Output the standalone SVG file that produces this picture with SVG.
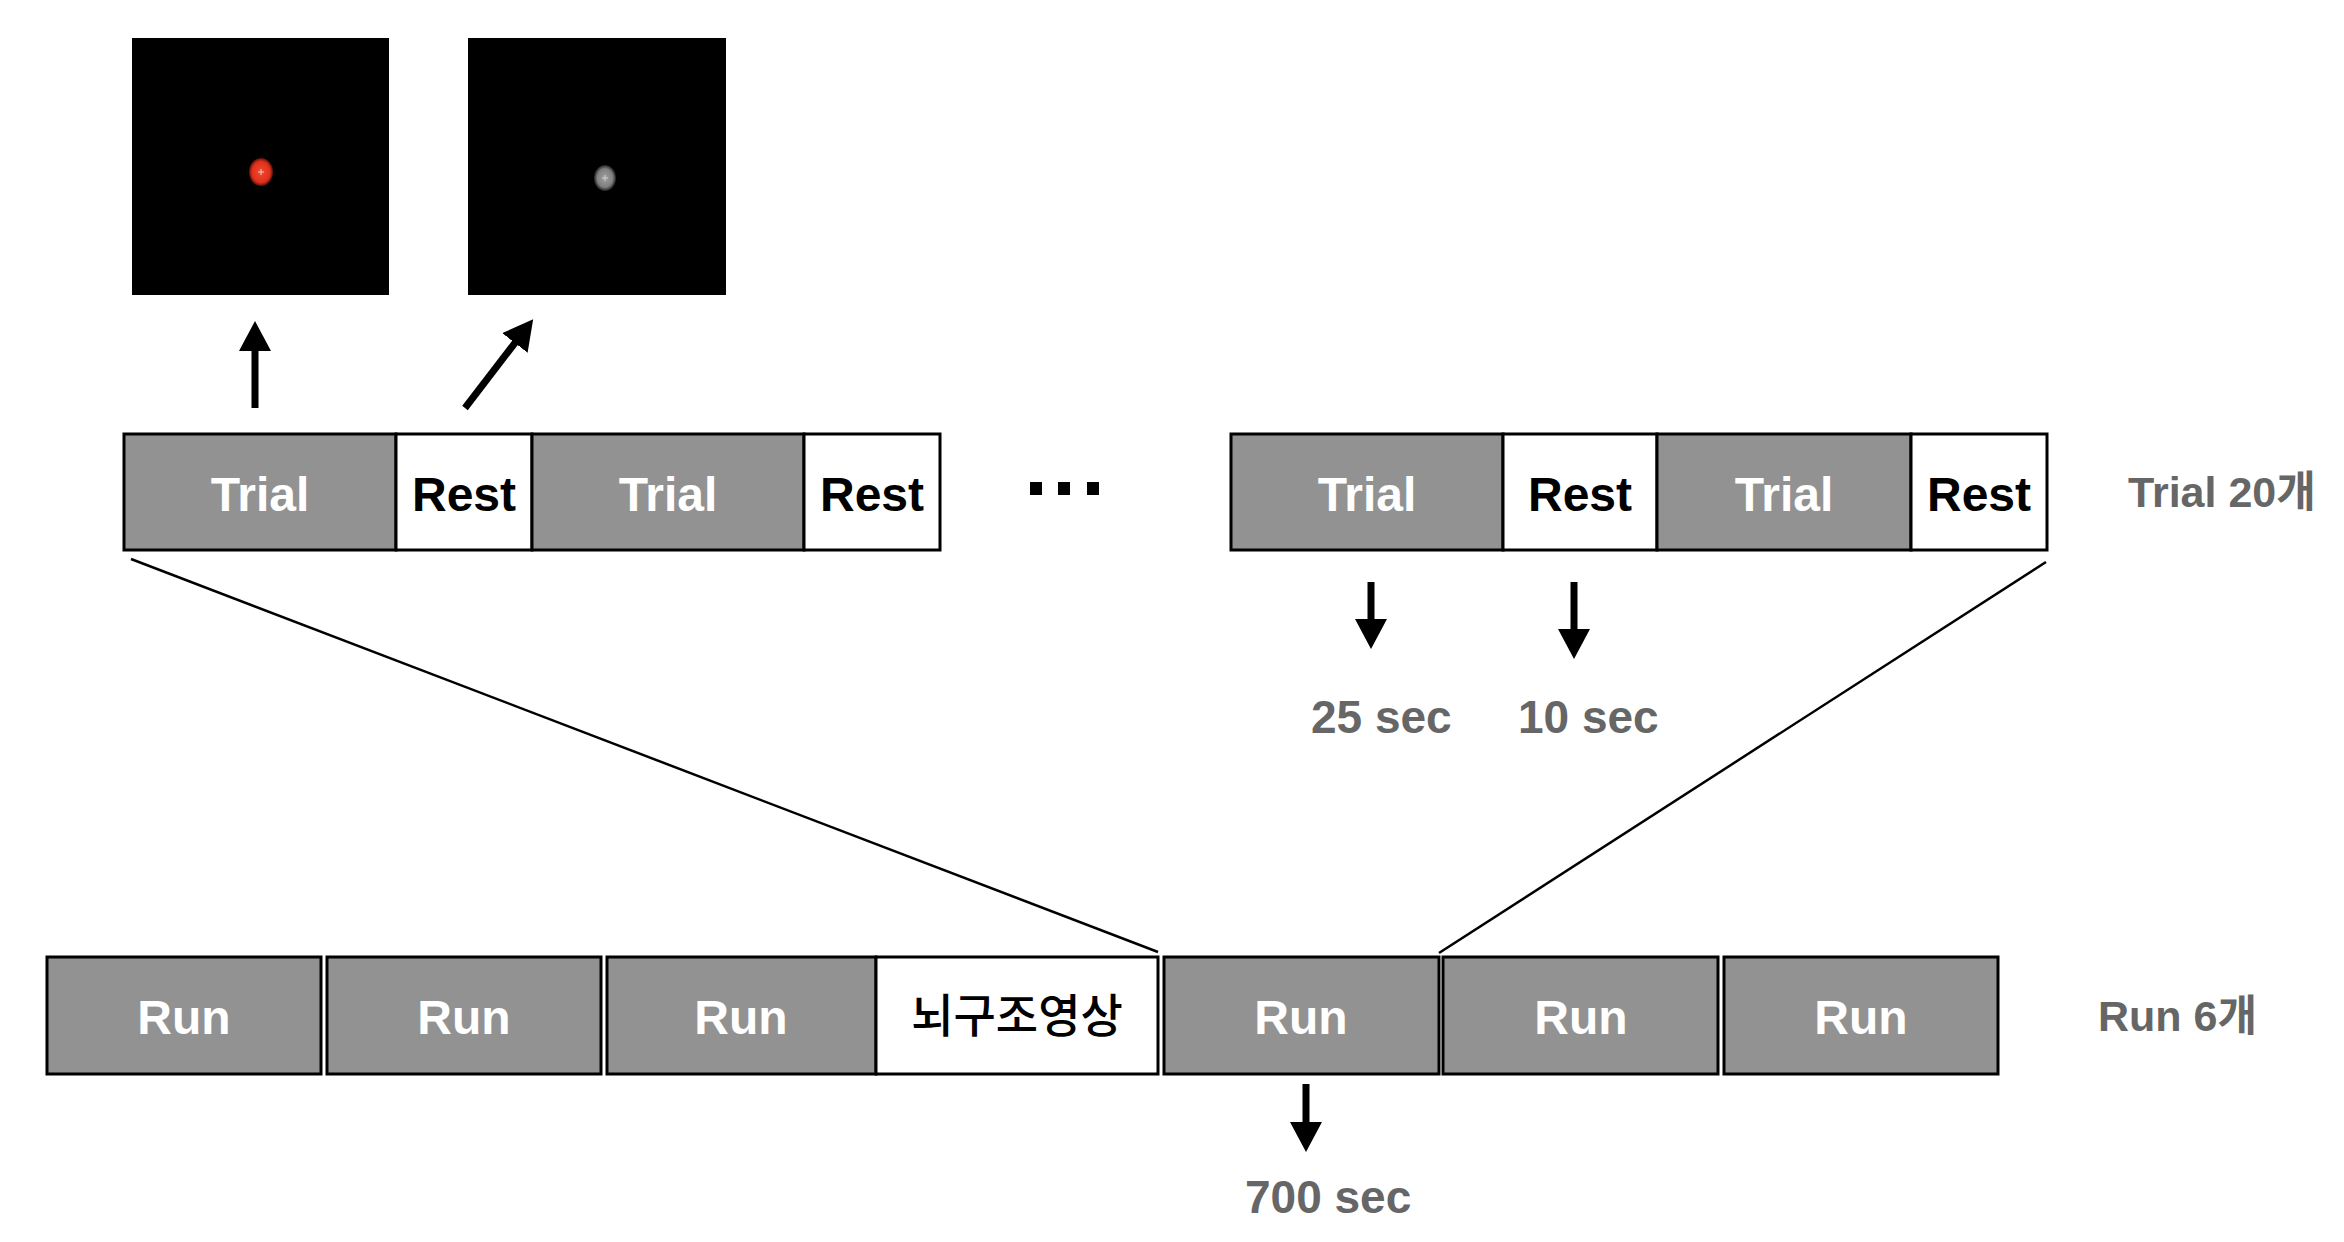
<svg xmlns="http://www.w3.org/2000/svg" width="2344" height="1242" viewBox="0 0 2344 1242">
<style>
.cell{stroke:#000;stroke-width:3}
.g{fill:#929292}
.w{fill:#fff}
.tw{font-family:"Liberation Sans",Arial,sans-serif;font-weight:bold;font-size:48px;fill:#fff;text-anchor:middle}
.tb{font-family:"Liberation Sans",Arial,sans-serif;font-weight:bold;font-size:48px;fill:#000;text-anchor:middle}
.kr{font-family:"Liberation Sans","Noto Sans CJK KR",sans-serif;font-weight:500;font-size:46px;fill:#000;text-anchor:middle}
.lab{font-family:"Liberation Sans","Noto Sans CJK KR",sans-serif;font-weight:bold;font-size:43px;fill:#666}
.sec{font-family:"Liberation Sans",Arial,sans-serif;font-weight:bold;font-size:46px;fill:#666}
.ln{stroke:#000;stroke-width:2.5;fill:none}
.ar{stroke:#000;stroke-width:7;fill:none;marker-end:url(#ah)}
</style>
<defs>
<marker id="ah" viewBox="0 0 30 32" refX="10" refY="16" markerWidth="30" markerHeight="32" markerUnits="userSpaceOnUse" orient="auto">
<path d="M0,0 L30,16 L0,32 Z" fill="#000"/>
</marker>
<radialGradient id="rd">
<stop offset="0" stop-color="#f04a30"/><stop offset="0.75" stop-color="#e0301c"/><stop offset="1" stop-color="#5a1008"/>
</radialGradient>
<radialGradient id="gd">
<stop offset="0" stop-color="#a0a0a0"/><stop offset="0.7" stop-color="#808080"/><stop offset="1" stop-color="#202020"/>
</radialGradient>
</defs>
<rect width="2344" height="1242" fill="#fff"/>

<g id="stim-red">
<rect x="132" y="38" width="257" height="257" fill="#000"/>
<ellipse cx="261" cy="172" rx="12" ry="14" fill="url(#rd)"/>
<path d="M258,172 H264 M261,169 V175" stroke="#f3c8c0" stroke-width="1"/>
</g>
<g id="stim-gray">
<rect x="468" y="38" width="258" height="257" fill="#000"/>
<ellipse cx="605" cy="178" rx="11" ry="13" fill="url(#gd)"/>
<path d="M602,178 H608 M605,175 V181" stroke="#d0d0d0" stroke-width="1"/>
</g>

<g id="trial-bar-1">
<rect class="cell g" x="124" y="434" width="272" height="116"/>
<text class="tw" x="260" y="511">Trial</text>
<rect class="cell w" x="396" y="434" width="136" height="116"/>
<text class="tb" x="464" y="511">Rest</text>
<rect class="cell g" x="532" y="434" width="272" height="116"/>
<text class="tw" x="668" y="511">Trial</text>
<rect class="cell w" x="804" y="434" width="136" height="116"/>
<text class="tb" x="872" y="511">Rest</text>
</g>

<g id="ellipsis">
<rect x="1030" y="482" width="12" height="13" fill="#000"/>
<rect x="1058" y="482" width="12" height="13" fill="#000"/>
<rect x="1087" y="482" width="12" height="13" fill="#000"/>
</g>

<g id="trial-bar-2">
<rect class="cell g" x="1231" y="434" width="272" height="116"/>
<text class="tw" x="1367" y="511">Trial</text>
<rect class="cell w" x="1503" y="434" width="154" height="116"/>
<text class="tb" x="1580" y="511">Rest</text>
<rect class="cell g" x="1657" y="434" width="254" height="116"/>
<text class="tw" x="1784" y="511">Trial</text>
<rect class="cell w" x="1911" y="434" width="136" height="116"/>
<text class="tb" x="1979" y="511">Rest</text>
</g>

<g id="label-trial20"><text class="lab" x="2128" y="507">Trial 20개</text></g>
<g id="label-25sec"><text class="sec" x="1311" y="733">25 sec</text></g>
<g id="label-10sec"><text class="sec" x="1518" y="733">10 sec</text></g>

<g id="run-bar">
<rect class="cell g" x="47" y="957" width="274" height="117"/>
<text class="tw" x="184" y="1034">Run</text>
<rect class="cell g" x="327" y="957" width="274" height="117"/>
<text class="tw" x="464" y="1034">Run</text>
<rect class="cell g" x="607" y="957" width="269" height="117"/>
<text class="tw" x="741" y="1034">Run</text>
<rect class="cell w" x="876" y="957" width="282" height="117"/>
<text class="kr" x="1017" y="1032">뇌구조영상</text>
<rect class="cell g" x="1164" y="957" width="275" height="117"/>
<text class="tw" x="1301" y="1034">Run</text>
<rect class="cell g" x="1443" y="957" width="275" height="117"/>
<text class="tw" x="1581" y="1034">Run</text>
<rect class="cell g" x="1724" y="957" width="274" height="117"/>
<text class="tw" x="1861" y="1034">Run</text>
</g>

<g id="label-run6"><text class="lab" x="2098" y="1031">Run 6개</text></g>
<g id="label-700sec"><text class="sec" x="1245" y="1213">700 sec</text></g>

<g id="connectors">
<line class="ar" x1="255" y1="408" x2="255" y2="341"/>
<line class="ar" x1="465" y1="408" x2="521" y2="335"/>
<line class="ar" x1="1371" y1="582" x2="1371" y2="629"/>
<line class="ar" x1="1574" y1="582" x2="1574" y2="639"/>
<line class="ar" x1="1306" y1="1084" x2="1306" y2="1132"/>
<line class="ln" x1="131" y1="559" x2="1158" y2="952"/>
<line class="ln" x1="2046" y1="562" x2="1439" y2="953"/>
</g>
</svg>
